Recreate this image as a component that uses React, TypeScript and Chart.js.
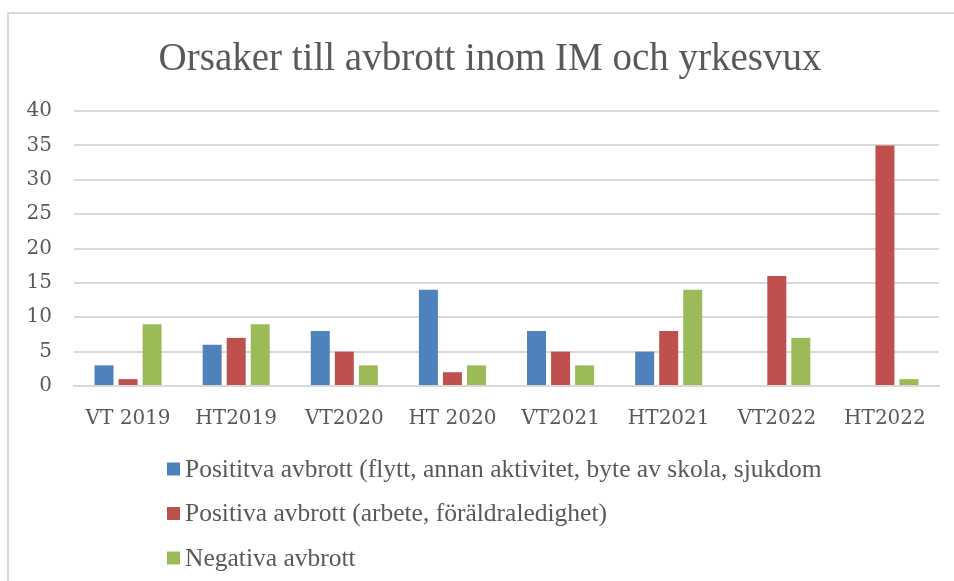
import React, { useEffect, useRef } from "react";
import { Chart, registerables } from "chart.js";

Chart.register(...registerables);

const categories = ["VT 2019", "HT2019", "VT2020", "HT 2020", "VT2021", "HT2021", "VT2022", "HT2022"];
const seriesNames = [
  "Posititva avbrott (flytt, annan aktivitet, byte av skola, sjukdom",
  "Positiva avbrott (arbete, föräldraledighet)",
  "Negativa avbrott",
];
const positivaFlytt = [3, 6, 8, 14, 8, 5, 0, 0];
const positivaArbete = [1, 7, 5, 2, 5, 8, 16, 35];
const negativa = [9, 9, 3, 3, 3, 14, 7, 1];
const yTicks = [0, 5, 10, 15, 20, 25, 30, 35, 40];
const title = "Orsaker till avbrott inom IM och yrkesvux";

const colors = ["#4F81BD", "#C0504D", "#9BBB59"];
const textColor = "#595959";

const titlePlugin = {
  id: "customTitle",
  afterDraw(chart: any) {
    const { ctx } = chart;
    ctx.save();
    ctx.font = "39px 'Liberation Serif'";
    ctx.fillStyle = textColor;
    ctx.textAlign = "center";
    ctx.textBaseline = "alphabetic";
    ctx.fillText(title, 490, 70);
    ctx.restore();
  },
};

const legendPlugin = {
  id: "stackedLegend",
  afterDraw(chart: any) {
    const { ctx, chartArea } = chart;
    ctx.save();
    ctx.font = "25.5px 'Liberation Serif'";
    ctx.textBaseline = "middle";
    ctx.textAlign = "left";
    const x0 = chartArea.left + 93;
    chart.data.datasets.forEach((ds: any, i: number) => {
      const y = chartArea.bottom + 83 + i * 44.5;
      ctx.fillStyle = ds.backgroundColor;
      ctx.fillRect(x0, y - 6.5, 13, 13);
      ctx.fillStyle = textColor;
      ctx.fillText(ds.label, x0 + 18, y + 1);
    });
    ctx.restore();
  },
};

export default function App() {
  const ref = useRef<HTMLCanvasElement>(null);
  useEffect(() => {
    if (!ref.current) return;
    const values = [positivaFlytt, positivaArbete, negativa];
    const chart = new Chart(ref.current, {
      type: "bar",
      data: {
        labels: categories,
        datasets: seriesNames.map((name, i) => ({
          label: name,
          data: values[i],
          backgroundColor: colors[i],
          categoryPercentage: 0.667,
          barPercentage: 0.79,
        })),
      },
      options: {
        animation: false,
        responsive: false,
        maintainAspectRatio: false,
        layout: { padding: { top: 111, left: 8, right: 15, bottom: 129 } },
        plugins: {
          legend: { display: false },
          tooltip: { enabled: false },
          title: { display: false },
        },
        scales: {
          x: {
            grid: { display: false, drawTicks: false },
            border: { display: true, color: "#d9d9d9", width: 2 },
            ticks: {
              color: textColor,
              font: { family: "'DejaVu Serif'", size: 20 },
              padding: 21,
              maxRotation: 0,
            },
          },
          y: {
            min: 0,
            max: 40,
            afterFit: (s: any) => { s.width = 66; },
            afterBuildTicks: (s: any) => { s.ticks = yTicks.map((v) => ({ value: v })); },
            grid: { color: "#d9d9d9", lineWidth: 2, drawTicks: false },
            border: { display: false },
            ticks: {
              color: textColor,
              font: { family: "'DejaVu Serif'", size: 20 },
              padding: 22,
            },
          },
        },
      },
      plugins: [titlePlugin, legendPlugin],
    });
    return () => chart.destroy();
  }, []);
  return (
    <div style={{ position: "fixed", left: 0, top: 0, width: 954, height: 581, background: "#fff", overflow: "hidden" }}>
      <div style={{ position: "absolute", left: 7, top: 12, width: 1000, height: 700, border: "2px solid #d9d9d9", boxSizing: "border-box" }} />
      <canvas ref={ref} width={954} height={581} style={{ position: "absolute", left: 0, top: 0, width: 954, height: 581 }} />
    </div>
  );
}
